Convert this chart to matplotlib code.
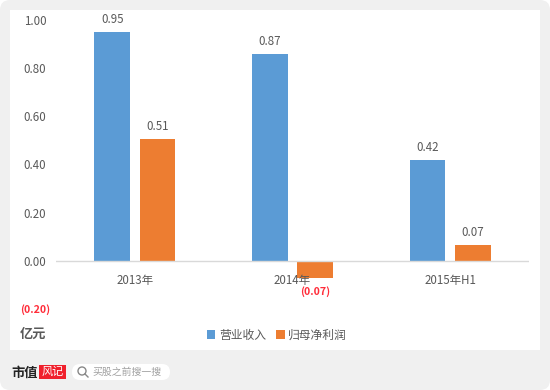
import numpy as np
import matplotlib
matplotlib.use('Agg')
import matplotlib.pyplot as plt
from matplotlib.patches import FancyBboxPatch, Circle, Rectangle

plt.rcParams['font.family'] = ['Noto Sans CJK SC', 'DejaVu Sans']

categories = ['2013年', '2014年', '2015年H1']
revenue = [0.95, 0.86, 0.42]
profit = [0.505, -0.07, 0.065]
revenue_labels = ['0.95', '0.87', '0.42']
profit_labels = ['0.51', '(0.07)', '0.07']
y_ticks = [-0.2, 0.0, 0.2, 0.4, 0.6, 0.8, 1.0]
y_tick_labels = ['(0.20)', '0.00', '0.20', '0.40', '0.60', '0.80', '1.00']

W, H = 550, 390
BLUE = '#5b9bd5'
ORANGE = '#ed7d31'
GREY = '#595959'
RED = '#ff2d3a'

fig = plt.figure(figsize=(W / 100, H / 100), dpi=100, facecolor='white')

# page furniture, in pixel coordinates
bg = fig.add_axes([0, 0, 1, 1])
bg.set_xlim(0, W)
bg.set_ylim(H, 0)
bg.axis('off')
bg.add_patch(FancyBboxPatch((0, 0), W, H, boxstyle='round,pad=0,rounding_size=10',
                            fc='#f0f0f0', ec='none'))
bg.add_patch(Rectangle((10, 10), 530, 340, fc='white', ec='none'))
bg.text(46, 334, '亿元', fontsize=9.5, color=GREY, ha='right', va='center', fontweight='bold')

# footer logo and search box
bg.text(11, 372.5, '市值', fontsize=9.5, color='#222222', ha='left', va='center', fontweight='bold')
bg.add_patch(Rectangle((39, 365), 27, 14, fc='#f0202c', ec='none'))
bg.text(52.5, 371.5, '风记', fontsize=8, color='white', ha='center', va='center',
        style='italic')
bg.add_patch(FancyBboxPatch((72, 364), 98, 16, boxstyle='round,pad=0,rounding_size=8',
                            fc='white', ec='none'))
bg.add_patch(Circle((82, 371), 4, fc='none', ec='#888888', lw=1))
bg.plot([85, 88], [374, 377], color='#888888', lw=1)
bg.text(92, 372, '买股之前搜一搜', fontsize=7.1, color='#a0a0a0', ha='left', va='center')

# chart area
left, right, top, bottom = 56, 529, 20, 309
ax = fig.add_axes([left / W, 1 - bottom / H, (right - left) / W, (bottom - top) / H])
ax.patch.set_alpha(0)
ax.set_xlim(-0.5, 2.5)
ax.set_ylim(-0.2, 1.0)

x = np.arange(len(categories))
width = 0.226
offset = 0.143
bars1 = ax.bar(x - offset, revenue, width, color=BLUE, label='营业收入')
bars2 = ax.bar(x + offset, profit, width, color=ORANGE, label='归母净利润')

for xi, v, lab in zip(x - offset, revenue, revenue_labels):
    ax.annotate(lab, (xi, v), xytext=(0, 6), textcoords='offset pixels', ha='center',
                va='bottom', fontsize=8.3, color=GREY, annotation_clip=False)
for xi, v, lab in zip(x + offset, profit, profit_labels):
    if v < 0:
        ax.annotate(lab, (xi, v), xytext=(0, -8), textcoords='offset pixels', ha='center',
                    va='top', fontsize=7.6, color=RED, fontweight='bold', annotation_clip=False)
    else:
        ax.annotate(lab, (xi, v), xytext=(0, 6), textcoords='offset pixels', ha='center',
                    va='bottom', fontsize=8.3, color=GREY, annotation_clip=False)

for s in ['top', 'right', 'left', 'bottom']:
    ax.spines[s].set_visible(False)
ax.axhline(0, color='#d9d9d9', lw=1, zorder=3)

ax.set_yticks(y_ticks)
ax.set_yticklabels(y_tick_labels, fontsize=8.3, color=GREY, ha='center')
ax.get_yticklabels()[0].set_color(RED)
ax.get_yticklabels()[0].set_fontweight('bold')
ax.get_yticklabels()[0].set_fontsize(7.6)
ax.tick_params(axis='y', length=0, pad=15)

ax.set_xticks([])
for xi, c in zip(x, categories):
    ax.annotate(c, (xi, 0), xytext=(0, -20), textcoords='offset pixels', ha='center',
                va='center', fontsize=8.3, color=GREY)

leg = fig.legend(handles=[bars1, bars2], loc='center', bbox_to_anchor=(277 / W, 1 - 335 / H),
                 ncol=2, frameon=False, fontsize=8.5, handlelength=0.7, handleheight=0.7,
                 handletextpad=0.3, columnspacing=0.9, labelcolor=GREY)

fig.savefig('out.png', dpi=100)
